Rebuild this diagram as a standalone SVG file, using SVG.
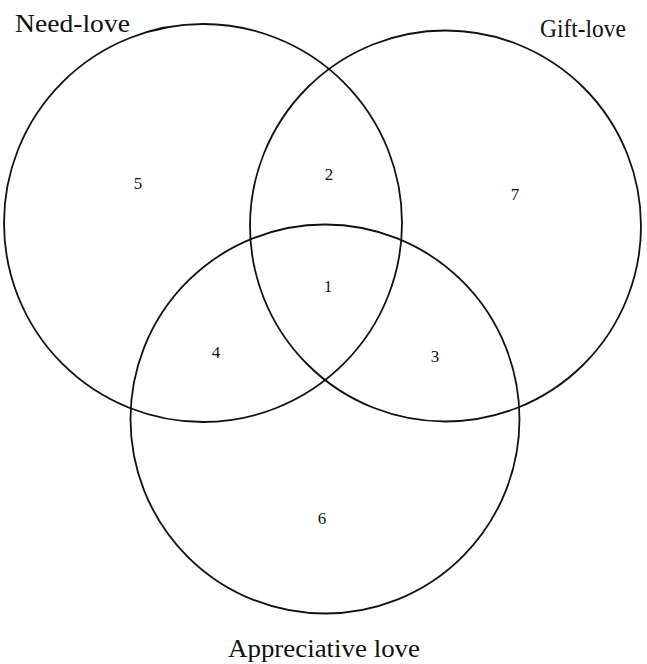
<svg xmlns="http://www.w3.org/2000/svg" width="647" height="664" viewBox="0 0 647 664">
<style>
  .c { fill: none; stroke: #111; stroke-width: 1.8; }
  .lbl { font-family: "Liberation Serif", "DejaVu Serif", serif; font-size: 25px; fill: #111; }
  .num { font-family: "Liberation Serif", "DejaVu Serif", serif; font-size: 17px; fill: #111; text-anchor: middle; }
</style>
<rect width="647" height="664" fill="#fff"/>
<g id="connectors"></g>
<g id="need-love">
  <circle class="c" cx="203" cy="223" r="199"/>
  <text class="lbl" x="15" y="32" textLength="115" lengthAdjust="spacingAndGlyphs">Need-love</text>
</g>
<g id="gift-love">
  <circle class="c" cx="445.5" cy="226" r="195.5"/>
  <text class="lbl" x="540" y="37" textLength="86" lengthAdjust="spacingAndGlyphs">Gift-love</text>
</g>
<g id="appreciative-love">
  <circle class="c" cx="325" cy="419" r="194.5"/>
  <text class="lbl" x="228" y="657" textLength="192" lengthAdjust="spacingAndGlyphs">Appreciative love</text>
</g>
<g id="regions">
  <text class="num" x="138" y="189">5</text>
  <text class="num" x="329" y="180">2</text>
  <text class="num" x="515" y="200">7</text>
  <text class="num" x="328" y="292">1</text>
  <text class="num" x="216" y="358">4</text>
  <text class="num" x="435" y="362">3</text>
  <text class="num" x="322" y="524">6</text>
</g>
</svg>
